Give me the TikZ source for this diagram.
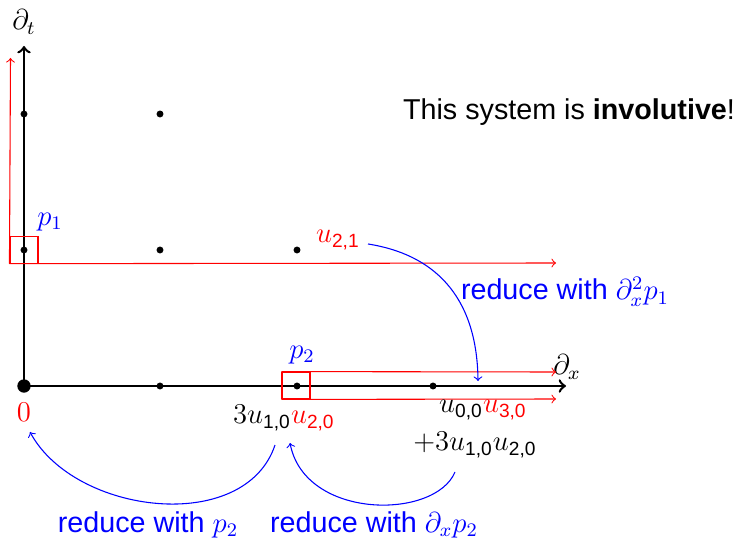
\documentclass[tikz,border=0pt]{standalone}
\usepackage{amsmath}
\usepackage{fontspec}
\setmainfont{Liberation Sans}
\begin{document}
\begin{tikzpicture}[x=0.418pt,y=-0.418pt,font=\fontsize{12}{14}\selectfont]
\tikzset{
  axis/.style={line width=1.05pt,->},
  redln/.style={red,line width=0.45pt,->},
  bluearc/.style={blue,line width=0.45pt,->},
  dot/.style={circle,fill,inner sep=0pt,minimum size=2.9pt},
  bigdot/.style={circle,fill,inner sep=0pt,minimum size=5.6pt},
  redbox/.style={draw=red,line width=0.45pt,inner sep=0pt,minimum width=11.7pt,minimum height=11pt},
  lbl/.style={inner sep=1pt}
}
\useasboundingbox (0,0) rectangle (737,541);
% axes
\coordinate (O) at (24,386);
\coordinate (ttop) at (24,46);
\coordinate (xend) at (566,386);
\draw[axis] (O) -- (ttop);
\draw[axis] (O) -- (xend);
\node[lbl] (dt) at (24,22) {$\partial_t$};
\node[lbl] (dx) at (567,367) {$\partial_x$};
% dots
\node[bigdot] (d00) at (O) {};
\node[dot] (d10) at (160,386) {};
\node[dot] (d20) at (297,386) {};
\node[dot] (d30) at (433,386) {};
\node[dot] (d01) at (24,250) {};
\node[dot] (d11) at (160,250) {};
\node[dot] (d21) at (297,250) {};
\node[dot] (d02) at (24,114) {};
\node[dot] (d12) at (160,114) {};
% p1 box
\node[redbox] (b1) at (24,250) {};
\coordinate (r1up) at (10.5,58);
\coordinate (r1right) at (556,263);
\draw[redln] (b1.south west) -- (r1up);
\draw[redln] (b1.south west) -- (r1right);
\node[lbl,blue] (p1) at (50,222) {$p_1$};
% p2 box
\node[redbox,minimum height=11.2pt] (b2) at (296,385.5) {};
\coordinate (r2a) at (556,372);
\coordinate (r2b) at (556,399);
\draw[redln] (b2.north west) -- (r2a);
\draw[redln] (b2.south west) -- (r2b);
\node[lbl,blue] (p2) at (302,355) {$p_2$};
% labels
\node[lbl,red] (u21) at (338,240) {$u_{\text{2,1}}$};
\node[lbl] (inv) at (569,112) {This system is \textbf{involutive}!};
\node[lbl,blue] (r1) at (565,292) {reduce with $\partial_x^2 p_1$};
\node[lbl,red] (zero) at (24,412) {$0$};
\node[lbl] (t1) at (284,418) {$3u_{\text{1,0}}\color{red}u_{\text{2,0}}$};
\node[lbl] (t2) at (483,410) {$u_{\text{0,0}}\color{red}u_{\text{3,0}}$};
\node[lbl] (t3) at (475,445) {$+3u_{\text{1,0}}u_{\text{2,0}}$};
\node[lbl,blue] (r2) at (148,525) {reduce with $p_2$};
\node[lbl,blue] (r3) at (374,525) {reduce with $\partial_x p_2$};
% blue arcs
\coordinate (a1s) at (368,244);
\coordinate (a1e) at (478,381);
\draw[bluearc] (a1s) .. controls (432,254) and (477,294) .. (a1e);
\coordinate (a2s) at (275,445);
\coordinate (a2e) at (30,432);
\draw[bluearc] (a2s) .. controls (245,535) and (75,515) .. (a2e);
\coordinate (a3s) at (455,472);
\coordinate (a3e) at (290,443);
\draw[bluearc] (a3s) .. controls (435,520) and (305,520) .. (a3e);
\end{tikzpicture}
\end{document}
